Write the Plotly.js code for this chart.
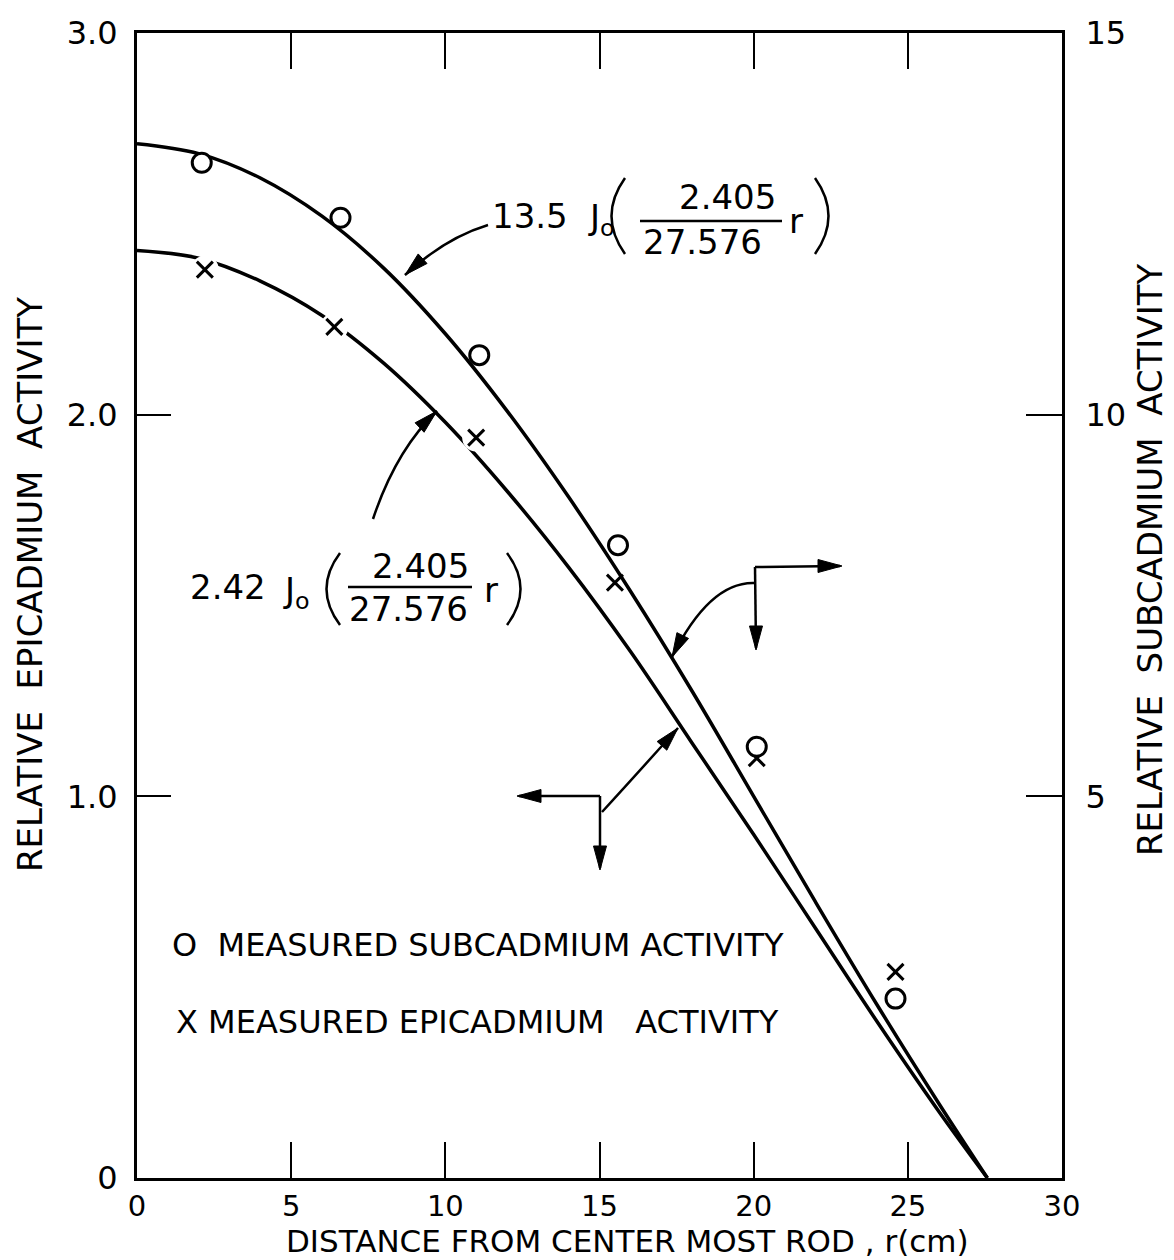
<!DOCTYPE html>
<html>
<head>
<meta charset="utf-8">
<script src="https://cdn.plot.ly/plotly-3.0.1.min.js"></script>
<style>html,body{margin:0;padding:0;background:#fff;}</style>
</head>
<body>
<div id="chart" style="width:1174px;height:1260px;"></div>
<script>
// ---- data ----
// fitted curves (r in cm)
const rFit   = [0, 2, 4, 6, 8, 10, 12, 14, 16, 18, 20, 22, 24, 26, 27.58];
// 13.5 J0(2.405 r / 27.576) on the right (subcadmium) axis
const subFit = [13.55, 13.42, 13.1, 12.6, 11.92, 11.06, 10.05, 8.92, 7.69, 6.38, 5.0, 3.62, 2.27, 0.98, 0];
// 2.42 J0(2.405 r / 27.576) on the left (epicadmium) axis
const epiFit = [2.43, 2.41, 2.35, 2.26, 2.135, 1.98, 1.80, 1.60, 1.38, 1.14, 0.90, 0.655, 0.41, 0.175, 0];
// measured points
const subR   = [2.1, 6.6, 11.1, 15.6, 20.1, 24.6];
const subVal = [13.3, 12.58, 10.78, 8.29, 5.65, 2.35];
const epiR   = [2.2, 6.4, 11.0, 15.5, 20.1, 24.6];
const epiVal = [2.38, 2.23, 1.94, 1.56, 1.10, 0.54];
// ticks
const xTicks = [0, 5, 10, 15, 20, 25, 30];
const yTicks = [0, 1, 2, 3];
const yTickText = ['0', '1.0', '2.0', '3.0'];
const y2Ticks = [5, 10, 15];
const y2TickText = ['5', '10', '15'];

// ---- layout helpers ----
const FONT = 'DejaVu Sans';
const L = 137, T = 33, W = 925, H = 1145;
const px = x => (x - L) / W;
const py = y => (T + H - y) / H;
const P = (x, y) => px(x).toFixed(5) + ',' + py(y).toFixed(5);

function ann(text, x, y, size, opts) {
  return Object.assign({
    text: text, xref: 'paper', yref: 'paper', x: px(x), y: py(y),
    xanchor: 'center', yanchor: 'middle', showarrow: false,
    font: {family: FONT, size: size, color: '#000'}
  }, opts || {});
}
function pathShape(d, w) {
  return {type: 'path', xref: 'paper', yref: 'paper', path: d,
          line: {color: '#000', width: w || 2.5}, fillcolor: 'rgba(0,0,0,0)'};
}
function curve(x0, y0, cx, cy, x1, y1, w) {
  return pathShape('M' + P(x0, y0) + ' Q' + P(cx, cy) + ' ' + P(x1, y1), w);
}
function seg(x0, y0, x1, y1, w) {
  return pathShape('M' + P(x0, y0) + ' L' + P(x1, y1), w);
}
function head(tx, ty, dx, dy) {
  const n = Math.hypot(dx, dy); dx /= n; dy /= n;
  const len = 24, hw = 6.5;
  const bx = tx - dx * len, by = ty - dy * len;
  const nx = -dy, ny = dx;
  return {type: 'path', xref: 'paper', yref: 'paper',
    path: 'M' + P(tx, ty) + ' L' + P(bx + nx * hw, by + ny * hw) + ' L' + P(bx - nx * hw, by - ny * hw) + ' Z',
    line: {color: '#000', width: 1}, fillcolor: '#000'};
}

const shapes = [
  // arrow to upper curve label
  curve(488, 225, 445, 238, 405, 275), head(405, 275, -40, 37),
  // arrow to lower curve label
  curve(373, 519, 396, 450, 437, 411), head(437, 411, 41, -39),
  // right-axis indicator
  seg(755, 567, 840, 566), head(842, 566, 1, 0),
  seg(755, 567, 756, 648), head(756, 650, 0, 1),
  curve(755, 583, 710, 581, 672, 657), head(672, 657, -38, 76),
  // left-axis indicator
  seg(600, 796, 519, 796), head(517, 796, -1, 0),
  seg(600, 796, 600, 868), head(600, 870, 0, 1),
  curve(602, 812, 635, 776, 678, 728), head(678, 728, 43, -48),
  // upper formula parentheses and fraction bar
  curve(625, 178, 598, 216, 625, 254, 2.5),
  curve(815, 178, 842, 216, 815, 254, 2.5),
  seg(640, 221, 782, 221, 2.5),
  // lower formula parentheses and fraction bar
  curve(340, 553, 313, 589, 340, 625, 2.5),
  curve(507, 553, 534, 589, 507, 625, 2.5),
  seg(348, 587, 472, 587, 2.5)
];

const NB = '\u00a0';
const annotations = [
  ann('13.5', 530, 216, 34),
  ann('J<sub>o</sub>', 601, 220, 34),
  ann('2.405', 727, 197, 34),
  ann('27.576', 702, 242, 34),
  ann('r', 796, 221, 34),
  ann('2.42', 228, 587, 34),
  ann('J<sub>o</sub>', 296, 592, 34),
  ann('2.405', 420, 566, 34),
  ann('27.576', 408, 609, 34),
  ann('r', 491, 590, 34),
  ann('O' + NB + NB + 'MEASURED SUBCADMIUM ACTIVITY', 170, 945, 32, {xanchor: 'left'}),
  ann('X MEASURED EPICADMIUM' + NB + NB + NB + 'ACTIVITY', 174, 1022, 32, {xanchor: 'left'}),
  ann('RELATIVE' + NB + NB + 'EPICADMIUM' + NB + NB + 'ACTIVITY', 30, 585, 34, {textangle: -90}),
  ann('RELATIVE' + NB + NB + 'SUBCADMIUM' + NB + NB + 'ACTIVITY', 1150, 560, 34, {textangle: -90}),
  ann('DISTANCE FROM CENTER MOST ROD , r(cm)', 627, 1260, 31, {yanchor: 'bottom', borderpad: 0})
];

const lineBlack = {color: '#000', width: 3.5, shape: 'spline', smoothing: 1};
const traces = [
  {x: rFit, y: epiFit, type: 'scatter', mode: 'lines', line: lineBlack, yaxis: 'y', hoverinfo: 'skip'},
  {x: epiR, y: epiVal, type: 'scatter', mode: 'markers', yaxis: 'y',
   marker: {symbol: 'circle', size: 28, color: '#fff', line: {width: 0}}, hoverinfo: 'skip'},
  {x: epiR, y: epiVal, type: 'scatter', mode: 'markers', yaxis: 'y', name: 'Measured epicadmium activity',
   marker: {symbol: 'x-thin', size: 16, color: '#000', line: {color: '#000', width: 3}}},
  {x: rFit, y: subFit, type: 'scatter', mode: 'lines', line: lineBlack, yaxis: 'y2', hoverinfo: 'skip'},
  {x: subR, y: subVal, type: 'scatter', mode: 'markers', yaxis: 'y2', name: 'Measured subcadmium activity',
   marker: {symbol: 'circle', size: 19, color: '#fff', line: {color: '#000', width: 3}}}
];

const tickFont = {family: FONT, size: 32, color: '#000'};
const layout = {
  width: 1174, height: 1260,
  margin: {l: L, r: 1174 - L - W, t: T, b: 1260 - T - H, pad: 0},
  paper_bgcolor: '#fff', plot_bgcolor: '#fff',
  showlegend: false,
  xaxis: {
    range: [0, 30], tickmode: 'array', tickvals: xTicks, ticktext: xTicks.map(String),
    ticks: 'inside', ticklen: 36, tickwidth: 2, tickcolor: '#000',
    showline: true, linewidth: 3, linecolor: '#000', mirror: 'ticks',
    showgrid: false, zeroline: false, tickfont: {family: FONT, size: 29, color: '#000'},
    ticklabelstandoff: 0
  },
  yaxis: {
    range: [0, 3], tickmode: 'array', tickvals: yTicks, ticktext: yTickText,
    ticks: 'inside', ticklen: 34, tickwidth: 2, tickcolor: '#000',
    showline: true, linewidth: 3, linecolor: '#000',
    showgrid: false, zeroline: false, tickfont: tickFont, ticklabelstandoff: 10
  },
  yaxis2: {
    range: [0, 15], overlaying: 'y', side: 'right', tickmode: 'array',
    tickvals: y2Ticks, ticktext: y2TickText,
    ticks: 'inside', ticklen: 36, tickwidth: 2, tickcolor: '#000',
    showline: true, linewidth: 3, linecolor: '#000',
    showgrid: false, zeroline: false, tickfont: tickFont, ticklabelstandoff: 14
  },
  shapes: shapes,
  annotations: annotations
};

Plotly.newPlot('chart', traces, layout, {displayModeBar: false, staticPlot: true});
</script>
</body>
</html>
